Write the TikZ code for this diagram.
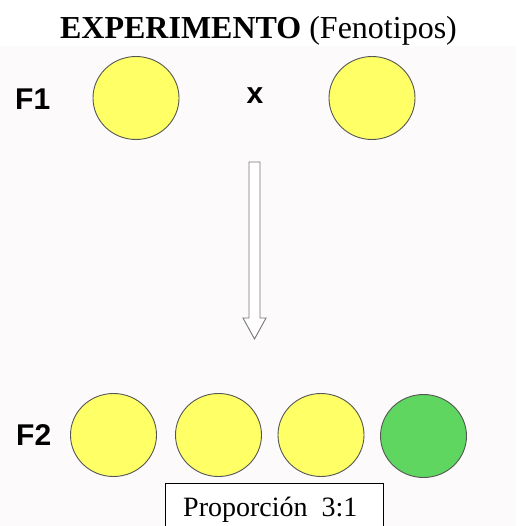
\documentclass[tikz,border=0pt]{standalone}
\usepackage{fontspec}
\setmainfont{Liberation Serif}
\newfontfamily\arialfont{Liberation Sans}
\usetikzlibrary{shapes.geometric}
\definecolor{bgpale}{HTML}{FCFAFB}
\definecolor{yellowpea}{HTML}{FFFF66}
\definecolor{greenpea}{HTML}{5FD660}
\definecolor{peaedge}{HTML}{555555}
\definecolor{arrowedge}{HTML}{777777}
\tikzset{
  pea/.style={ellipse, draw=peaedge, line width=0.9pt, minimum width=86pt, minimum height=83pt, inner sep=0pt},
  yellowpeastyle/.style={pea, fill=yellowpea},
  greenpeastyle/.style={pea, fill=greenpea},
  genlabel/.style={font=\arialfont\bfseries\fontsize{30}{34}\selectfont, inner sep=0pt, anchor=base west},
  serifbig/.style={inner sep=0pt, anchor=base}
}
\begin{document}
\begin{tikzpicture}[x=1pt,y=-1pt]
\useasboundingbox (0,0) rectangle (516,526);
\clip (0,0) rectangle (516,526);
\fill[white] (0,0) rectangle (516,46);
\fill[bgpale] (0,46) rectangle (516,526);
% title
\node[serifbig, font=\fontsize{32}{38}\selectfont] (title) at (258.5,39) {\textbf{EXPERIMENTO} (Fenotipos)};
% F1 row
\node[genlabel] (f1) at (15,110) {F1};
\node[yellowpeastyle] (p1) at (136,98) {};
\node[font=\arialfont\bfseries\fontsize{30}{34}\selectfont, inner sep=0pt, anchor=base] (cross) at (255,104) {x};
\node[yellowpeastyle] (p2) at (372,98) {};
% arrow
\draw[arrowedge, line width=0.9pt, fill=white] (249,162) -- (260,162) -- (260,318) -- (266,318) -- (254.5,339) -- (243,318) -- (249,318) -- cycle;
% F2 row
\node[genlabel] (f2) at (16,445) {F2};
\node[yellowpeastyle] (c1) at (113.5,435) {};
\node[yellowpeastyle] (c2) at (218.5,435) {};
\node[yellowpeastyle] (c3) at (321,435) {};
\node[greenpeastyle] (c4) at (423.5,436) {};
% proportion box
\draw[black, line width=1pt, fill=white] (165,483) rectangle (383,540);
\node[inner sep=0pt, anchor=base west, font=\fontsize{28}{32}\selectfont] (ratio) at (183,516) {Proporción\hspace{0.25em} 3:1};
\end{tikzpicture}
\end{document}
